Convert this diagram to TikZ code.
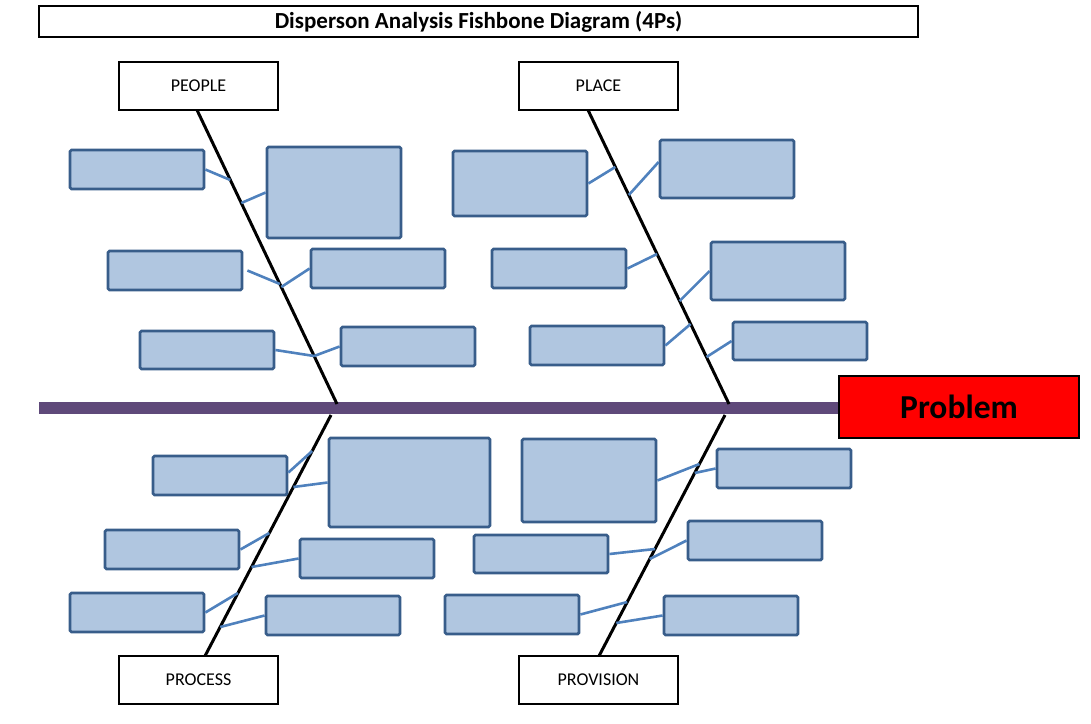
\documentclass[tikz,border=0pt]{standalone}
\usepackage{fontspec}
\setmainfont{Carlito}
\usetikzlibrary{calc}
\definecolor{boxfill}{RGB}{176,198,224}
\definecolor{boxline}{RGB}{56,93,138}
\definecolor{conline}{RGB}{79,129,189}
\definecolor{spinecol}{RGB}{95,73,122}
\definecolor{probred}{RGB}{255,0,0}
\tikzset{
  bbox/.style={draw=boxline, fill=boxfill, line width=2.8pt, rounded corners=1.5pt, inner sep=0pt, minimum width=134pt, minimum height=39pt},
  catbox/.style={draw=black, fill=white, line width=1.6pt, inner sep=0pt, minimum width=159pt, minimum height=48pt, font=\fontsize{18}{21}\selectfont},
  bone/.style={draw=black, line width=3pt},
  con/.style={draw=conline, line width=2.6pt},
}
\begin{document}
\begin{tikzpicture}[x=1pt,y=-1pt]
\useasboundingbox (0,0) rectangle (1091,723);
% title
\node[draw=black, line width=1.6pt, minimum width=879pt, minimum height=31pt, inner sep=0pt, font=\fontsize{23}{27}\selectfont\bfseries] (title) at (478.5,21.5) {Disperson Analysis Fishbone Diagram (4Ps)};
% spine and problem
\node[draw=black, fill=probred, line width=2pt, minimum width=240pt, minimum height=62pt, inner sep=0pt, font=\fontsize{33.5}{38}\selectfont\bfseries] (problem) at (959,407) {Problem};
\coordinate (spinestart) at (39,408);
\draw[draw=spinecol, line width=12pt] (spinestart) -- (problem.west |- spinestart);
% category boxes
\node[catbox] (people) at (198.5,86) {PEOPLE};
\node[catbox] (place) at (598.5,86) {PLACE};
\node[catbox] (process) at (198.5,680) {PROCESS};
\node[catbox] (provision) at (598.5,680) {PROVISION};
% bones
\coordinate (peopleT) at (197,110);
\coordinate (peopleB) at (337,404);
\coordinate (placeT) at (588,110);
\coordinate (placeB) at (729,404);
\coordinate (processT) at (331,415);
\coordinate (processB) at (205,656);
\coordinate (provT) at (725,415);
\coordinate (provB) at (599,656);
\draw[bone] (peopleT) -- (peopleB);
\draw[bone] (placeT) -- (placeB);
\draw[bone] (processT) -- (processB);
\draw[bone] (provT) -- (provB);
% boxes: people
\node[bbox] (B1) at (137,169.5) {};
\node[bbox, minimum height=91pt] (B2) at (334,192.5) {};
\node[bbox] (B3) at (175,270.5) {};
\node[bbox] (B4) at (378,268.5) {};
\node[bbox, minimum height=38pt] (B5) at (207,350) {};
\node[bbox] (B6) at (408,346.5) {};
% place
\node[bbox, minimum height=65pt] (C1) at (520,183.5) {};
\node[bbox, minimum height=58pt] (C2) at (727,169) {};
\node[bbox] (C3) at (559,268.5) {};
\node[bbox, minimum height=58pt] (C4) at (778,271) {};
\node[bbox] (C5) at (597,345.5) {};
\node[bbox, minimum height=38pt] (C6) at (800,341) {};
% process
\node[bbox] (D1) at (220,475.5) {};
\node[bbox, minimum width=161pt, minimum height=89pt] (D2) at (409.5,482.5) {};
\node[bbox] (D3) at (172,549.5) {};
\node[bbox] (D4) at (367,558.5) {};
\node[bbox] (D5) at (137,612.5) {};
\node[bbox] (D6) at (333,615.5) {};
% provision
\node[bbox, minimum height=83pt] (E1) at (589,480.5) {};
\node[bbox] (E2) at (784,468.5) {};
\node[bbox, minimum height=38pt] (E3) at (541,554) {};
\node[bbox] (E4) at (755,540.5) {};
\node[bbox] (E5) at (512,614.5) {};
\node[bbox] (E6) at (731,615.5) {};
% bone attachment points
\coordinate (b1) at (230.3,180);
\coordinate (b2) at (241.3,203);
\coordinate (b3) at (279.9,284);
\coordinate (b4) at (281.3,287);
\coordinate (b5) at (314.1,356);
\coordinate (c1) at (615.3,167);
\coordinate (c2) at (628.8,195);
\coordinate (c3) at (657.1,254);
\coordinate (c4) at (679.6,301);
\coordinate (c5) at (690.6,324);
\coordinate (c6) at (706.5,357);
\coordinate (d1) at (312.2,451);
\coordinate (d2) at (293.4,487);
\coordinate (d3) at (269.3,533);
\coordinate (d4) at (251.5,567);
\coordinate (d5) at (237.9,593);
\coordinate (d6) at (220.2,627);
\coordinate (e1) at (699.4,464);
\coordinate (e2) at (694.7,473);
\coordinate (e3) at (655,549);
\coordinate (e4) at (649.7,559);
\coordinate (e5) at (627.2,602);
\coordinate (e6) at (616.3,623);
% connectors
\draw[con] (B1.east) -- (b1);
\draw[con] (B2.west) -- (b2);
\draw[con] ($(B3.east)+(4,0)$) -- (b3);
\draw[con] (B4.west) -- (b4);
\draw[con] (B5.east) -- (b5);
\draw[con] (B6.west) -- (b5);
\draw[con] (C1.east) -- (c1);
\draw[con] ($(C2.west)+(0,-7)$) -- (c2);
\draw[con] (C3.east) -- (c3);
\draw[con] (C4.west) -- (c4);
\draw[con] (C5.east) -- (c5);
\draw[con] (C6.west) -- (c6);
\draw[con] ($(D1.east)+(0,-3)$) -- (d1);
\draw[con] (D2.west) -- (d2);
\draw[con] (D3.east) -- (d3);
\draw[con] (D4.west) -- (d4);
\draw[con] (D5.east) -- (d5);
\draw[con] (D6.west) -- (d6);
\draw[con] (E1.east) -- (e1);
\draw[con] (E2.west) -- (e2);
\draw[con] (E3.east) -- (e3);
\draw[con] (E4.west) -- (e4);
\draw[con] (E5.east) -- (e5);
\draw[con] (E6.west) -- (e6);
\end{tikzpicture}
\end{document}
